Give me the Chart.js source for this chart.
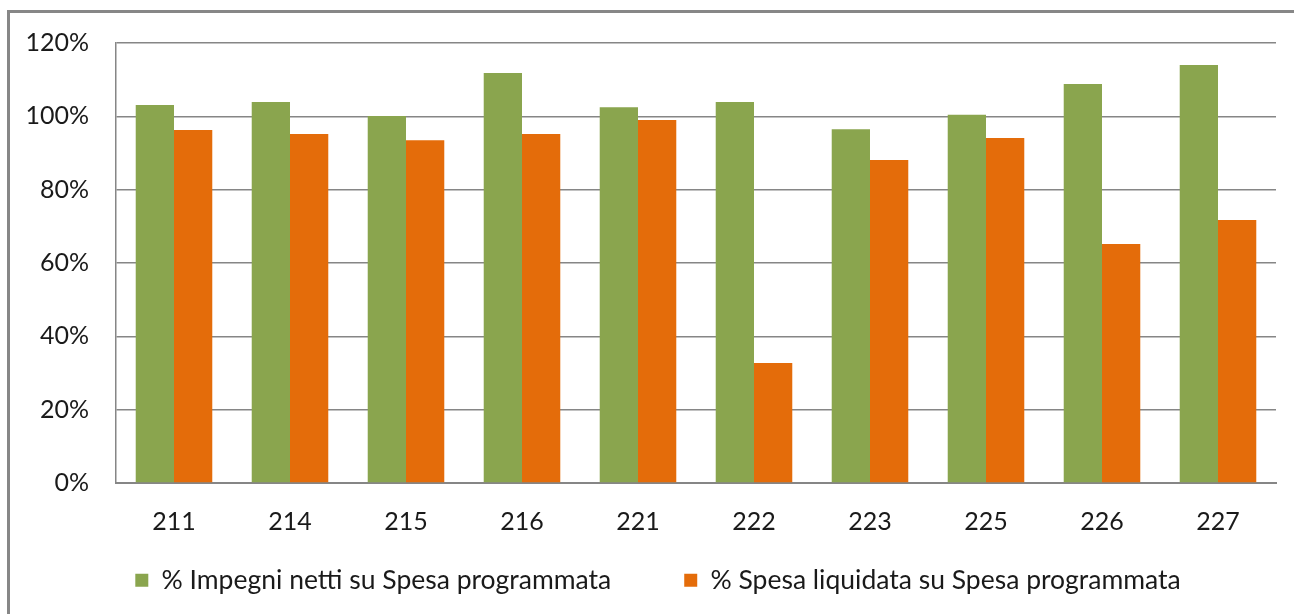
<!DOCTYPE html>
<html>
<head>
<meta charset="utf-8">
<script src="https://cdn.jsdelivr.net/npm/chart.js@4.4.1/dist/chart.umd.min.js"></script>
<style>
  html, body { margin: 0; padding: 0; background: #fff; overflow: hidden; }
  #wrap { position: relative; width: 1294px; height: 614px; }
  #frame { position: absolute; left: 7px; top: 10px; width: 1400px; height: 700px;
           border-left: 3px solid #878787; border-top: 3px solid #878787; pointer-events: none; }
  canvas { position: absolute; left: 0; top: 0; }
</style>
</head>
<body>
<div id="wrap">
  <canvas id="chart" width="1294" height="614"></canvas>
  <div id="frame"></div>
</div>
<script>
// categorie (capitoli)
const categories = ["211", "214", "215", "216", "221", "222", "223", "225", "226", "227"];
// % Impegni netti su Spesa programmata
const impegni = [103.1, 103.9, 100.1, 111.8, 102.5, 103.9, 96.5, 100.4, 108.8, 114.0];
// % Spesa liquidata su Spesa programmata
const liquidata = [96.3, 95.2, 93.5, 95.2, 99.0, 32.7, 88.1, 94.1, 65.2, 71.7];
const seriesNames = ["% Impegni netti su Spesa programmata", "% Spesa liquidata su Spesa programmata"];

const gridColor = "#868686";
const fontFamily = "Lato, 'Open Sans', sans-serif";

// sposta la legenda più in alto, come nel grafico originale
const legendShift = {
  id: "legendShift",
  afterLayout(chart) {
    const lg = chart.legend;
    lg.top -= 43;
    lg.left += 40;
  },
};

const ctx = document.getElementById("chart").getContext("2d");
new Chart(ctx, {
  type: "bar",
  data: {
    labels: categories,
    datasets: [
      {
        label: seriesNames[0],
        data: impegni,
        backgroundColor: "#8aa54e",
        categoryPercentage: 0.66,
        barPercentage: 1.0,
      },
      {
        label: seriesNames[1],
        data: liquidata,
        backgroundColor: "#e46c0a",
        categoryPercentage: 0.66,
        barPercentage: 1.0,
      },
    ],
  },
  plugins: [legendShift],
  options: {
    responsive: false,
    animation: false,
    layout: { padding: { left: 0, right: 18, top: 43, bottom: 0 } },
    plugins: {
      tooltip: { enabled: false },
      legend: {
        position: "bottom",
        maxHeight: 77,
        labels: {
          boxWidth: 13,
          boxHeight: 13,
          padding: 73,
          color: "#1a1a1a",
          font: { family: fontFamily, size: 26.5 },
        },
      },
    },
    scales: {
      x: {
        grid: { display: false, drawTicks: false },
        border: { display: true, color: gridColor, width: 2 },
        ticks: { color: "#1a1a1a", padding: 24, font: { family: fontFamily, size: 25 } },
        afterFit: (scale) => { scale.height = 54; },
      },
      y: {
        min: 0,
        max: 120,
        ticks: {
          stepSize: 20,
          padding: 27,
          color: "#1a1a1a",
          font: { family: fontFamily, size: 25 },
          callback: (v) => v + "%",
        },
        grid: { color: gridColor, lineWidth: 1.5, drawTicks: false },
        border: { display: true, color: gridColor, width: 1.5 },
        afterFit: (scale) => { scale.width = 116; },
      },
    },
  },
});
</script>
</body>
</html>
